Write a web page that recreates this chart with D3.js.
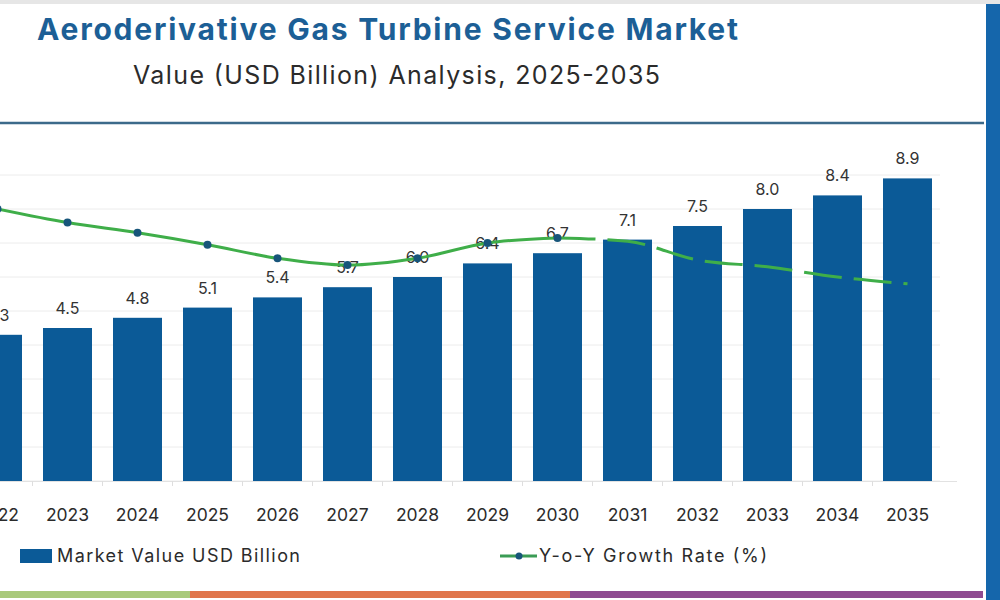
<!DOCTYPE html>
<html>
<head>
<meta charset="utf-8">
<script src="https://cdn.jsdelivr.net/npm/d3@7"></script>
<style>
  html, body { margin: 0; padding: 0; background: #fff; }
  svg { display: block; }
  text { font-family: Inter, "Open Sans", sans-serif; }
</style>
</head>
<body>
<svg id="chart" width="1000" height="600"></svg>
<script>
const years = ["2022","2023","2024","2025","2026","2027","2028","2029","2030","2031","2032","2033","2034","2035"];
const marketValue = [4.3, 4.5, 4.8, 5.1, 5.4, 5.7, 6.0, 6.4, 6.7, 7.1, 7.5, 8.0, 8.4, 8.9];
const growthRate = [8.0, 7.6, 7.3, 6.95, 6.55, 6.35, 6.55, 7.0, 7.15, 7.05, 6.5, 6.3, 6.0, 5.8];
const historicEnd = "2030";
const titleText = "Aeroderivative Gas Turbine Service Market";
const subtitleText = "Value (USD Billion) Analysis, 2025-2035";
const legendBar = "Market Value USD Billion";
const legendLine = "Y-o-Y Growth Rate (%)";

const svg = d3.select("#chart");

// frame decorations
svg.append("rect").attr("x", 0).attr("y", 0).attr("width", 1000).attr("height", 4).attr("fill", "#e6e6e6");
svg.append("rect").attr("x", 986).attr("y", 4).attr("width", 14).attr("height", 596).attr("fill", "#1566ab");
svg.append("line").attr("x1", 0).attr("x2", 984).attr("y1", 123).attr("y2", 123)
  .attr("stroke", "#3c6a8a").attr("stroke-width", 2.5);
const strip = [["#a9c97b", 0, 190], ["#e0764c", 190, 570], ["#8f4b91", 570, 983]];
svg.selectAll(".strip").data(strip).join("rect")
  .attr("x", d => d[1]).attr("width", d => d[2] - d[1])
  .attr("y", 591).attr("height", 7).attr("fill", d => d[0]);

// titles
svg.append("text").attr("x", 37).attr("y", 40)
  .attr("font-size", 30).attr("font-weight", 700).attr("fill", "#1c5f96")
  .attr("textLength", 701).attr("lengthAdjust", "spacing")
  .text(titleText);
svg.append("text").attr("x", 133).attr("y", 84)
  .attr("font-size", 25).attr("fill", "#2b2b2b")
  .attr("textLength", 527).attr("lengthAdjust", "spacing")
  .text(subtitleText);

// scales
const x = d3.scaleBand().domain(years).range([-51.5, 956.5]).paddingInner(0.3).paddingOuter(0.35);
const y = d3.scaleLinear().domain([0, 9]).range([481, 175]);
const y2 = d3.scaleLinear().domain([0, 9]).range([481, 175]);

// gridlines
svg.append("g").selectAll("line").data(y.ticks(9)).join("line")
  .attr("x1", 0).attr("x2", 940)
  .attr("y1", d => y(d)).attr("y2", d => y(d))
  .attr("stroke", "#ececec").attr("stroke-width", 1);

// bars
svg.append("g").selectAll("rect").data(years).join("rect")
  .attr("x", d => x(d)).attr("width", x.bandwidth())
  .attr("y", (d, i) => y(marketValue[i]))
  .attr("height", (d, i) => y(0) - y(marketValue[i]))
  .attr("fill", "#0b5a97");

// bar labels
svg.append("g").selectAll("text").data(years).join("text")
  .attr("x", d => x(d) + x.bandwidth() / 2)
  .attr("y", (d, i) => y(marketValue[i]) - 14)
  .attr("text-anchor", "middle").attr("font-size", 16).attr("fill", "#333")
  .text((d, i) => marketValue[i].toFixed(1));

// x axis
const xAxis = d3.axisBottom(x).tickSize(5).tickSizeOuter(0);
const gx = svg.append("g").attr("transform", `translate(0,${y(0)})`).call(xAxis);
gx.select(".domain").attr("stroke", "#e2e2e2");
gx.selectAll(".tick line").attr("stroke", "#dedede").attr("transform", `translate(${-x.step() / 2},0)`);
gx.selectAll(".tick text").attr("font-size", 17.5).attr("fill", "#2b2b2b").attr("dy", "1.85em")
  .style("font-family", "Inter, sans-serif");

// growth line
const pts = years.map((d, i) => ({ year: d, v: growthRate[i] }));
const hIdx = years.indexOf(historicEnd);
const lineGen = d3.line().x(d => x(d.year) + x.bandwidth() / 2).y(d => y2(d.v)).curve(d3.curveMonotoneX);
svg.append("path").datum(pts.slice(0, hIdx + 1)).attr("d", lineGen)
  .attr("fill", "none").attr("stroke", "#3fae49").attr("stroke-width", 3);
svg.append("path").datum(pts.slice(hIdx)).attr("d", lineGen)
  .attr("fill", "none").attr("stroke", "#3fae49").attr("stroke-width", 3)
  .attr("stroke-dasharray", "38,12");
svg.append("g").selectAll("circle").data(pts.slice(0, hIdx + 1)).join("circle")
  .attr("cx", d => x(d.year) + x.bandwidth() / 2).attr("cy", d => y2(d.v))
  .attr("r", 4).attr("fill", "#17557a");

// legend
svg.append("rect").attr("x", 20).attr("y", 549).attr("width", 32).attr("height", 14).attr("fill", "#0b5a97");
svg.append("text").attr("x", 57).attr("y", 562).attr("font-size", 18).attr("fill", "#2b2b2b")
  .attr("textLength", 243).attr("lengthAdjust", "spacing").text(legendBar);
svg.append("line").attr("x1", 500).attr("x2", 537).attr("y1", 556).attr("y2", 556)
  .attr("stroke", "#3a9c55").attr("stroke-width", 3);
svg.append("circle").attr("cx", 519).attr("cy", 556).attr("r", 3.5).attr("fill", "#17557a");
svg.append("text").attr("x", 539).attr("y", 562).attr("font-size", 18).attr("fill", "#2b2b2b")
  .attr("textLength", 228).attr("lengthAdjust", "spacing").text(legendLine);
</script>
</body>
</html>
